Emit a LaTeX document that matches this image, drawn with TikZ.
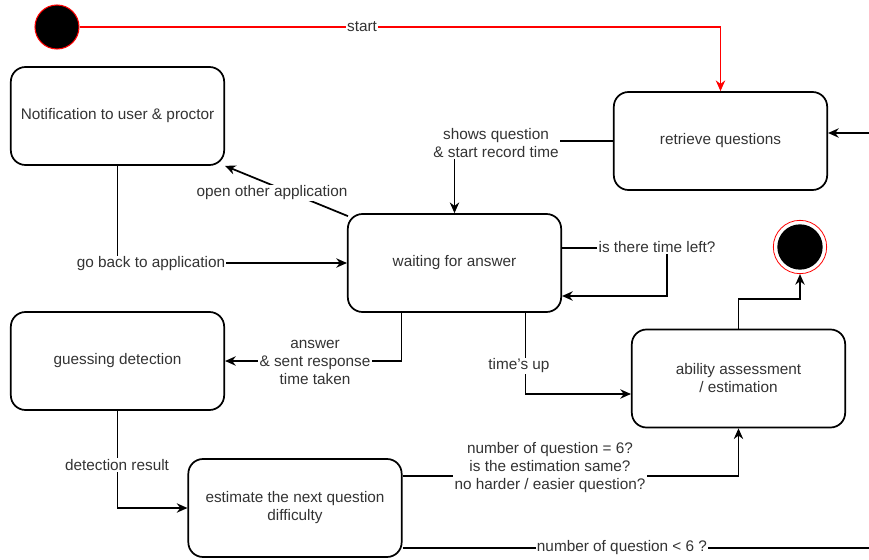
\documentclass[tikz,border=0pt]{standalone}
\usepackage{fontspec}
\setmainfont{Liberation Sans}
\usetikzlibrary{positioning,calc,arrows.meta}
\definecolor{txtgray}{HTML}{333333}
\tikzset{state/.style={draw,rounded corners=11pt,line width=1.3pt,minimum width=160pt,minimum height=73.5pt,align=center,text=txtgray},
  lbl/.style={fill=white,inner sep=1pt,align=center,text=txtgray},
  arr/.style={line width=1.3pt,-{Stealth[length=8pt,width=7pt]}},
  ln/.style={line width=1.3pt},
  redarr/.style={draw=red,line width=1.3pt,-{Stealth[length=8pt,width=7pt]}},
  initc/.style={circle,draw=red,fill=black,line width=0.8pt,minimum size=33pt,inner sep=0pt},
  endo/.style={circle,draw=red,fill=white,line width=0.6pt,minimum size=40pt,inner sep=0pt},
  endi/.style={circle,fill=black,minimum size=34pt,inner sep=0pt}}

\begin{document}
\begin{tikzpicture}[x=0.75pt,y=-0.75pt,font=\fontsize{11.5}{13.5}\selectfont]
          \useasboundingbox (0,0) rectangle (869,560);

          % states
          \node[initc] (init) at (57,27) {};
          \node[state] (retr) at (720.5,141) {retrieve questions};
          \node[state] (notif) at (117.5,116) {Notification to user \& proctor};
          \node[state] (wait) at (454.5,263) {waiting for answer};
          \node[state] (guess) at (117.5,361) {guessing detection};
          \node[state] (abil) at (738.5,378.5) {ability assessment\\/ estimation};
          \node[state] (est) at (295,508) {estimate the next question\\difficulty};
          \node[endo] (fin) at (800,247) {};
          \node[endi] (finc) at (fin) {};
          \coordinate (rin) at (869,133);
          \coordinate (eout) at (869,548);
          \coordinate (tl) at (667,296);

          % transitions
          \draw[redarr] (init) -| (retr);
          \draw[arr] (retr) -| (wait);
          \draw[arr] ($(wait.north west)+(1,3)$) -- (notif.south east);
          \draw[arr] (notif) |- (wait);
          \draw[arr] ($(wait.east)+(0,-15)$) -| (tl) -- (tl -| wait.east);
          \draw[arr] ($(wait.south)+(71,0)$) |- ($(abil.west)+(0,15.5)$);
          \draw[arr] ($(wait.south)+(-53,0)$) |- (guess.east);
          \draw[arr] (guess) |- (est);
          \draw[arr] ($(est.east)+(0,-32)$) -| (abil.south);
          \draw[arr] (abil.north) -- ++(0,-30) -| (fin.south);
          \draw[ln] ($(est.east)+(0,40)$) -- (eout);
          \draw[arr] (rin) -- (retr.east |- rin);

          % labels
          \node[lbl] (lstart) at (362,27) {start};
          \node[lbl] (lshow) at (496,143) {shows question\\\& start record time};
          \node[lbl] (lopen) at (272,193) {open other application};
          \node[lbl] (lback) at (151,264) {go back to application};
          \node[lbl] (lleft) at (657,247) {is there time left?};
          \node[lbl] (lup) at (519,366) {time's up};
          \node[lbl] (lans) at (315,362) {answer\\\& sent response\\time taken};
          \node[lbl] (ldet) at (117,465) {detection result};
          \node[lbl] (lnum) at (550,468) {number of question = 6?\\is the estimation same?\\no harder / easier question?};
          \node[lbl] (lless) at (622,548) {number of question < 6 ?};
\end{tikzpicture}
\end{document}
